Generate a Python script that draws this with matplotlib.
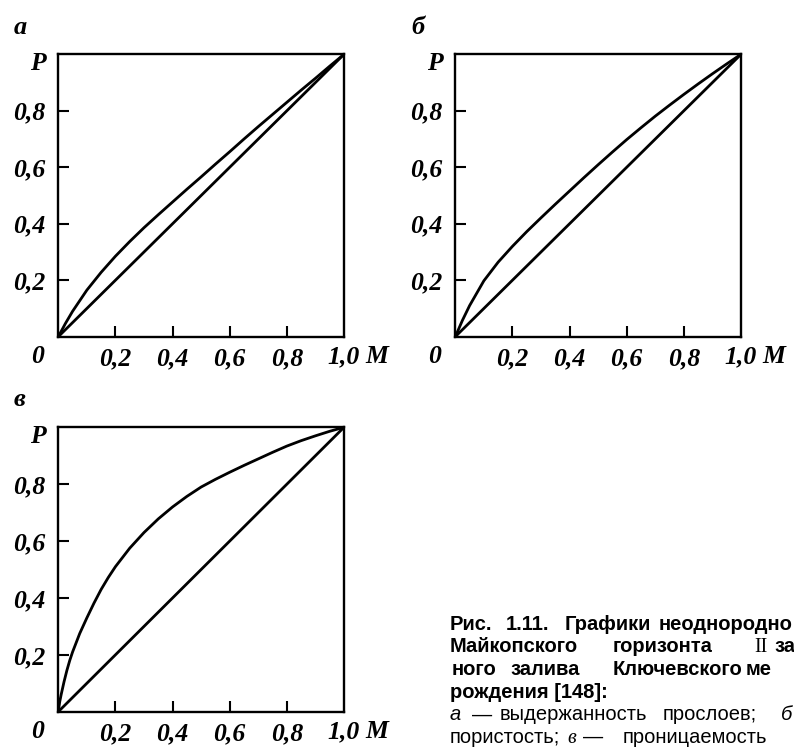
import matplotlib
matplotlib.use("Agg")
import matplotlib.pyplot as plt

# ---------------- data ----------------
M_a = [0, 0.025, 0.05, 0.1, 0.15, 0.2, 0.25, 0.3, 0.35, 0.4, 0.45, 0.5, 0.55, 0.6,
       0.65, 0.7, 0.75, 0.8, 0.85, 0.9, 0.95, 1.0]
P_a = [0, 0.047, 0.09, 0.165, 0.228, 0.285, 0.337, 0.386, 0.432, 0.477, 0.522, 0.566,
       0.611, 0.655, 0.7, 0.744, 0.787, 0.83, 0.873, 0.915, 0.958, 1.0]

M_b = [0, 0.025, 0.05, 0.1, 0.15, 0.2, 0.25, 0.3, 0.35, 0.4, 0.45, 0.5, 0.55, 0.6,
       0.65, 0.7, 0.75, 0.8, 0.85, 0.9, 0.95, 1.0]
P_b = [0, 0.058, 0.11, 0.198, 0.264, 0.32, 0.372, 0.421, 0.469, 0.516, 0.563, 0.609,
       0.654, 0.698, 0.74, 0.781, 0.82, 0.858, 0.895, 0.931, 0.966, 1.0]

M_c = [0, 0.005, 0.01, 0.02, 0.03, 0.04, 0.05, 0.075, 0.1, 0.125, 0.15, 0.175, 0.2,
       0.25, 0.3, 0.35, 0.4, 0.45, 0.5, 0.55, 0.6, 0.65, 0.7, 0.75, 0.8, 0.85, 0.9,
       0.95, 1.0]
P_c = [0, 0.035, 0.06, 0.105, 0.145, 0.18, 0.21, 0.275, 0.33, 0.382, 0.43, 0.472, 0.51,
       0.575, 0.63, 0.678, 0.72, 0.757, 0.79, 0.817, 0.842, 0.866, 0.889, 0.912, 0.934,
       0.953, 0.97, 0.986, 1.0]

diag_M = [0, 1.0]
diag_P = [0, 1.0]

tick_vals = [0.2, 0.4, 0.6, 0.8]
tick_labels = ["0,2", "0,4", "0,6", "0,8"]
panel_letters = ["а", "б", "в"]

# caption as visible in the reference (cut at the right edge)
caption_lines = [
    [("Рис.", 450), ("1.11.", 506), ("Графики", 565), ("неоднородно", 659)],
    [("Майкопского", 450), ("горизонта", 613), ("II", 754), ("за", 774)],
    [("ного", 452), ("залива", 510), ("Ключевского", 613), ("ме", 746)],
    [("рождения [148]:", 450)],
    [("а", 450), ("—", 472), ("выдержанность", 500), ("прослоев;", 663), ("б", 781)],
    [("пористость;", 450), ("в", 567), ("—", 583), ("проницаемость", 623)],
]

# ---------------- figure ----------------
W, H = 794, 747
fig = plt.figure(figsize=(W / 100, H / 100), dpi=100)

SERIF_BI = dict(family="Liberation Serif", weight="bold", style="italic")
LBL = 18.5
LW = 2.0


def px_axes(left, top, right, bottom):
    return [left / W, 1 - bottom / H, (right - left) / W, (bottom - top) / H]


def make_panel(rect, M, P, letter, letter_xy):
    ax = fig.add_axes(rect)
    ax.set_xlim(0, 1)
    ax.set_ylim(0, 1)
    ax.plot(diag_M, diag_P, color="black", lw=LW, solid_capstyle="round")
    ax.plot(M, P, color="black", lw=LW, solid_joinstyle="round")
    for s in ax.spines.values():
        s.set_linewidth(1.7)
    ax.set_xticks(tick_vals)
    ax.set_xticklabels(tick_labels)
    ax.set_yticks(tick_vals)
    ax.set_yticklabels(tick_labels)
    ax.tick_params(direction="in", length=8, width=1.5, pad=9)
    ax.tick_params(axis="x", pad=8)
    for t in ax.get_xticklabels() + ax.get_yticklabels():
        t.set_fontfamily("Liberation Serif")
        t.set_fontweight("bold")
        t.set_fontstyle("italic")
        t.set_fontsize(LBL)
    ax.text(-0.072, -0.07, "0", transform=ax.transAxes, ha="center", va="center",
            fontsize=LBL, **SERIF_BI)
    ax.text(1.0, -0.07, "1,0", transform=ax.transAxes, ha="center", va="center",
            fontsize=LBL, **SERIF_BI)
    ax.text(1.075, -0.07, "M", transform=ax.transAxes, ha="left", va="center",
            fontsize=LBL, **SERIF_BI)
    ax.text(-0.045, 0.968, "P", transform=ax.transAxes, ha="right", va="center",
            fontsize=LBL, **SERIF_BI)
    fig.text(letter_xy[0] / W, 1 - letter_xy[1] / H, letter, ha="left", va="center",
             fontsize=19, **SERIF_BI)
    return ax


make_panel(px_axes(58.3, 54.3, 344, 336.7), M_a, P_a, panel_letters[0], (14, 27))
make_panel(px_axes(455.3, 54.3, 741, 336.7), M_b, P_b, panel_letters[1], (411, 27))
make_panel(px_axes(58.3, 427.3, 344, 711.7), M_c, P_c, panel_letters[2], (14, 399))

# ---------------- caption ----------------
baselines = [629.6, 652.3, 675, 697.7, 720.3, 743]
for i, (line, yb) in enumerate(zip(caption_lines, baselines)):
    bold = i < 4
    for word, x in line:
        kw = dict(family="Liberation Sans", weight="bold" if bold else "normal",
                  style="normal", size=14.5)
        if word == "II":
            kw.update(family="Liberation Serif", weight="normal")
        if i == 4 and word in ("а", "б"):
            kw.update(style="italic")
        if i == 5 and word == "в":
            kw.update(family="Liberation Serif", style="italic")
        fig.text(x / W, 1 - yb / H, word, ha="left", va="baseline", **kw)

fig.savefig("out.png", dpi=100)
